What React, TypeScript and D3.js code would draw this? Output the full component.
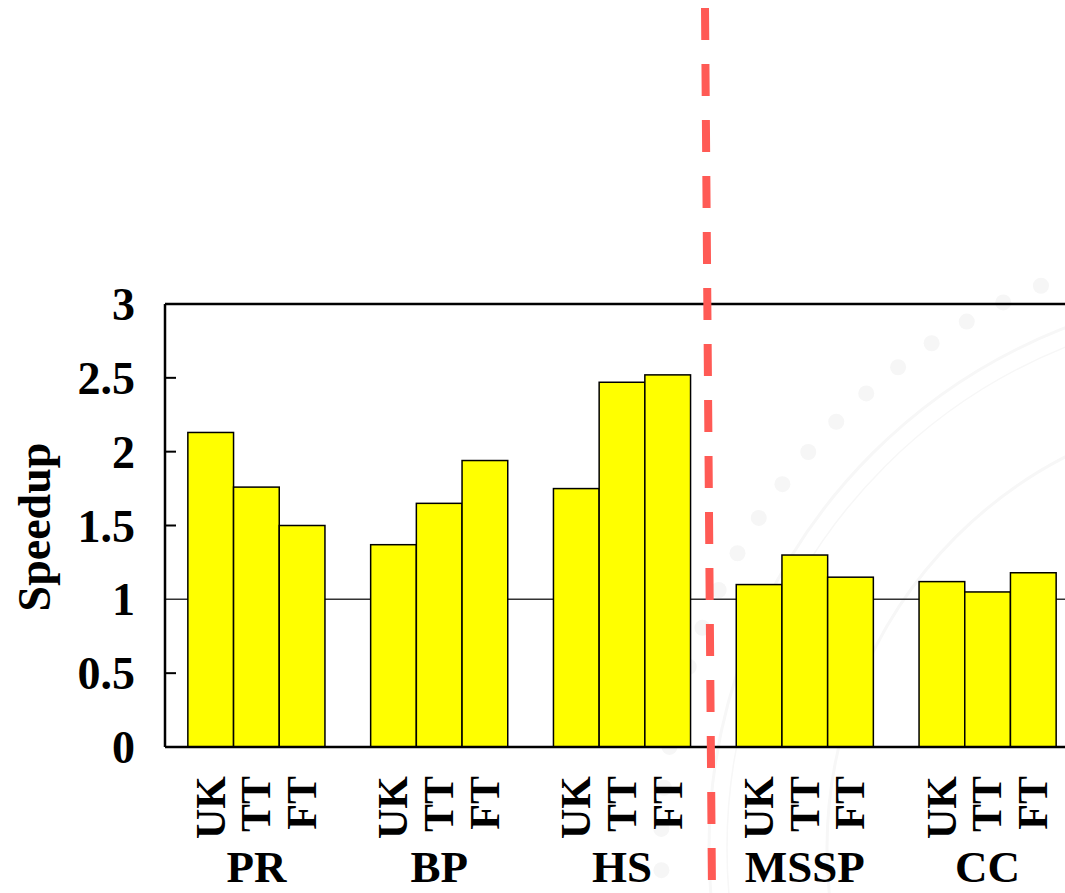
import React from "react";
import * as d3 from "d3";

const groups = ["PR", "BP", "HS", "MSSP", "CC"];
const series = ["UK", "TT", "FT"];
const speedupUK = [2.13, 1.37, 1.75, 1.1, 1.12];
const speedupTT = [1.76, 1.65, 2.47, 1.3, 1.05];
const speedupFT = [1.5, 1.94, 2.52, 1.15, 1.18];
const yTicks = [0, 0.5, 1, 1.5, 2, 2.5, 3];
const yTickLabels = ["0", "0.5", "1", "1.5", "2", "2.5", "3"];

const W = 1065;
const H = 893;
const FONT = "'Liberation Serif', 'Times New Roman', serif";

export default function App() {
  const x0 = d3.scaleBand<string>().domain(groups).range([165, 1079]).padding(0);
  const x1 = d3
    .scaleBand<string>()
    .domain(series)
    .range([0, x0.bandwidth()])
    .paddingInner(0)
    .paddingOuter(0.5);
  const y = d3.scaleLinear().domain([0, 3]).range([747, 304]);

  const valuesBySeries: Record<string, number[]> = {
    UK: speedupUK,
    TT: speedupTT,
    FT: speedupFT,
  };

  // faint watermark seal
  const cx = 1267;
  const cy = 848;
  const dots: [number, number][] = [];
  for (let a = -108; a >= -188; a -= 3.9) {
    const r = (a * Math.PI) / 180;
    dots.push([cx + 606 * Math.cos(r), cy + 606 * Math.sin(r)]);
  }

  const xLeft = 165;
  const xRight = 1079;

  return (
    <div style={{ position: "absolute", left: 0, top: 0 }}>
      <svg width={W} height={H} style={{ display: "block", background: "#fff" }}>
        {/* watermark */}
        <g fill="none" stroke="#f7f7f7" strokeWidth={3}>
          <circle cx={cx} cy={cy} r={558} />
          <circle cx={cx} cy={cy} r={540} strokeWidth={1.5} />
          <circle cx={cx} cy={cy} r={440} />
        </g>
        <g fill="#f6f6f6">
          {dots.map((d, i) => (
            <circle key={i} cx={d[0]} cy={d[1]} r={8} />
          ))}
        </g>

        {/* y=1 reference line */}
        <line x1={xLeft} x2={xRight} y1={y(1)} y2={y(1)} stroke="#333" strokeWidth={1.5} />

        {/* bars */}
        {groups.map((g, gi) => (
          <g key={g} transform={`translate(${x0(g)},0)`}>
            {series.map((s) => {
              const v = valuesBySeries[s][gi];
              return (
                <rect
                  key={s}
                  x={x1(s)}
                  y={y(v)}
                  width={x1.bandwidth()}
                  height={y(0) - y(v)}
                  fill="#ffff00"
                  stroke="#000"
                  strokeWidth={1.5}
                />
              );
            })}
          </g>
        ))}

        {/* frame */}
        <line x1={xLeft} x2={xRight} y1={y(3)} y2={y(3)} stroke="#000" strokeWidth={2.5} />
        <line x1={xLeft} x2={xRight} y1={y(0)} y2={y(0)} stroke="#000" strokeWidth={2.5} />
        <line x1={xLeft} x2={xLeft} y1={y(3)} y2={y(0)} stroke="#000" strokeWidth={2.5} />

        {/* y ticks */}
        {yTicks.map((t, i) => (
          <g key={t}>
            {t > 0 && t < 3 && t !== 1 && (
              <line x1={xLeft} x2={xLeft + 11} y1={y(t)} y2={y(t)} stroke="#000" strokeWidth={2} />
            )}
            <text
              x={135}
              y={y(t)}
              dy="0.35em"
              textAnchor="end"
              fontFamily={FONT}
              fontWeight="bold"
              fontSize={46}
              fill="#000"
            >
              {yTickLabels[i]}
            </text>
          </g>
        ))}

        {/* y label */}
        <text
          transform={`translate(50,527) rotate(-90)`}
          textAnchor="middle"
          fontFamily={FONT}
          fontWeight="bold"
          fontSize={46}
          fill="#000"
        >
          Speedup
        </text>

        {/* x labels */}
        {groups.map((g) => (
          <g key={g}>
            {series.map((s) => {
              const cxs = (x0(g) as number) + (x1(s) as number) + x1.bandwidth() / 2;
              return (
                <text
                  key={s}
                  transform={`translate(${cxs},776) rotate(-90)`}
                  dy="0.33em"
                  textAnchor="end"
                  fontFamily={FONT}
                  fontWeight="bold"
                  fontSize={42}
                  fill="#000"
                >
                  {s}
                </text>
              );
            })}
            <text
              x={(x0(g) as number) + x0.bandwidth() / 2}
              y={882}
              textAnchor="middle"
              fontFamily={FONT}
              fontWeight="bold"
              fontSize={45}
              fill="#000"
            >
              {g}
            </text>
          </g>
        ))}

        {/* red dashed divider */}
        <line
          x1={705}
          y1={8}
          x2={712}
          y2={893}
          stroke="#ff5a55"
          strokeWidth={8}
          strokeDasharray="32 24"
        />
      </svg>
    </div>
  );
}
